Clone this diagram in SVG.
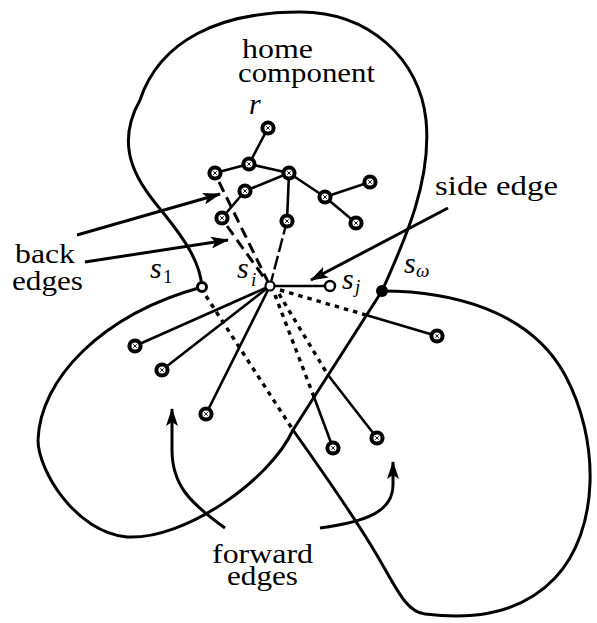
<svg xmlns="http://www.w3.org/2000/svg" width="597" height="623" viewBox="0 0 597 623">
<style>
.bd{fill:none;stroke:#000;stroke-width:3;stroke-linejoin:round;stroke-linecap:round}
.e{stroke:#000;stroke-width:2.6;stroke-linecap:round;fill:none}
.dot{stroke:#000;stroke-width:3.4;stroke-dasharray:4.5,5;fill:none}
.dash{stroke:#000;stroke-width:3;stroke-dasharray:11,6;fill:none}
.ldash{stroke:#000;stroke-width:2.4;stroke-dasharray:14,4;fill:none}
.ar{stroke:#000;stroke-width:3;fill:none;marker-end:url(#ah)}
</style>
<defs>
<marker id="ah" markerUnits="userSpaceOnUse" markerWidth="20" markerHeight="12" refX="17" refY="6" orient="auto">
<path d="M0,0 L18,6 L0,12 L4,6 z" fill="#000"/>
</marker>
<g id="nd">
<circle r="7.6" fill="#000"/>
<circle r="3.6" fill="#fff"/>
<path d="M-1.8,-1.8 L1.8,1.8 M1.8,-1.8 L-1.8,1.8" stroke="#000" stroke-width="0.9"/>
</g>
</defs>
<rect width="597" height="623" fill="#fff"/>
<g id="boundaries">
<path class="bd" d="M202,287 C200,262 185,240 165,215 C140,185 112,150 140,100 C160,40 220,12 300,12 C370,12 420,60 426,120 C432,180 405,240 382,291 L293,430 C270,480 185,540 127,537 C75,532 38,470 38,440 C40,380 100,315 202,287"/>
<path class="bd" d="M382,291 C450,291 530,310 565,375 C600,440 600,530 555,578 C515,620 460,618 425,614 C405,612 395,585 375,552 C355,518 320,468 293,430"/>
</g>
<g id="connectors">
<line class="e" x1="268" y1="128" x2="249" y2="164"/>
<line class="e" x1="249" y1="164" x2="215" y2="173"/>
<line class="e" x1="249" y1="164" x2="289" y2="173"/>
<line class="e" x1="289" y1="173" x2="245" y2="191"/>
<line class="e" x1="289" y1="173" x2="325" y2="197"/>
<line class="e" x1="325" y1="197" x2="370" y2="182"/>
<line class="e" x1="325" y1="197" x2="356" y2="223"/>
<line class="e" x1="245" y1="191" x2="222" y2="218"/>
<line class="e" x1="289" y1="173" x2="287" y2="221"/>
<line class="ldash" x1="287" y1="221" x2="270" y2="286"/>
<line class="dash" x1="219" y1="182" x2="270" y2="286"/>
<line class="dash" x1="227" y1="226" x2="270" y2="286"/>
<line class="e" x1="270" y1="286" x2="135" y2="346"/>
<line class="e" x1="270" y1="286" x2="162" y2="370"/>
<line class="e" x1="270" y1="286" x2="206" y2="414"/>
<line class="e" x1="270" y1="286" x2="330" y2="286"/>
<line class="dot" x1="275" y1="295" x2="314" y2="397"/>
<line class="e" x1="314" y1="397" x2="333" y2="448"/>
<line class="dot" x1="279" y1="294" x2="328" y2="375"/>
<line class="e" x1="328" y1="375" x2="377" y2="438"/>
<line class="dot" x1="280" y1="290" x2="366" y2="315"/>
<line class="e" x1="366" y1="315" x2="437" y2="336"/>
<line class="dot" x1="206" y1="296" x2="293" y2="430"/>
<path class="ar" d="M77,235 L220,194"/>
<path class="ar" d="M85,262 L228,240"/>
<path class="ar" d="M448,208 L311,280"/>
<path class="ar" d="M225,528 C190,503 172,485 172,450 L172,409"/>
<path class="ar" d="M320,528 C365,522 393,512 393,485 L393,462"/>
</g>
<g id="n-r"><use href="#nd" x="268" y="128"/></g>
<g id="n2"><use href="#nd" x="249" y="164"/></g>
<g id="n3"><use href="#nd" x="215" y="173"/></g>
<g id="n4"><use href="#nd" x="289" y="173"/></g>
<g id="n5"><use href="#nd" x="245" y="191"/></g>
<g id="n6"><use href="#nd" x="325" y="197"/></g>
<g id="n7"><use href="#nd" x="370" y="182"/></g>
<g id="n8"><use href="#nd" x="356" y="223"/></g>
<g id="n9"><use href="#nd" x="222" y="218"/></g>
<g id="n10"><use href="#nd" x="287" y="221"/></g>
<g id="a1"><use href="#nd" x="135" y="346"/></g>
<g id="a2"><use href="#nd" x="162" y="370"/></g>
<g id="a3"><use href="#nd" x="206" y="414"/></g>
<g id="b1"><use href="#nd" x="333" y="448"/></g>
<g id="b2"><use href="#nd" x="377" y="438"/></g>
<g id="c1"><use href="#nd" x="437" y="336"/></g>
<g id="s1"><circle cx="202" cy="287" r="4.5" fill="#fff" stroke="#000" stroke-width="3"/></g>
<g id="si"><circle cx="270" cy="286" r="4.5" fill="#fff" stroke="#000" stroke-width="2.2"/></g>
<g id="sj"><circle cx="330" cy="286" r="5" fill="#fff" stroke="#000" stroke-width="2.5"/></g>
<g id="sw"><circle cx="382" cy="291" r="6" fill="#000"/></g>
<g id="labels" fill="#000" font-family="Liberation Serif, DejaVu Serif, serif">
<text font-size="27" x="242" y="58" textLength="71" lengthAdjust="spacingAndGlyphs">home</text>
<text font-size="27" x="238" y="82" textLength="137" lengthAdjust="spacingAndGlyphs">component</text>
<text font-size="30" font-style="italic" x="249" y="114">r</text>
<text font-size="27" x="435" y="195" textLength="123" lengthAdjust="spacingAndGlyphs">side edge</text>
<text font-size="27" x="15" y="263" textLength="60" lengthAdjust="spacingAndGlyphs">back</text>
<text font-size="27" x="12" y="290" textLength="71" lengthAdjust="spacingAndGlyphs">edges</text>
<text font-size="27" x="212" y="563" textLength="101" lengthAdjust="spacingAndGlyphs">forward</text>
<text font-size="27" x="227" y="585" textLength="71" lengthAdjust="spacingAndGlyphs">edges</text>
<text font-size="30" font-style="italic" x="150" y="278">s<tspan font-size="19" font-style="normal" x="163" y="283">1</tspan></text>
<text font-size="30" font-style="italic" x="237" y="278">s<tspan font-size="19" x="251" y="286">i</tspan></text>
<text font-size="30" font-style="italic" x="342" y="289">s<tspan font-size="19" x="355" y="293">j</tspan></text>
<text font-size="30" font-style="italic" x="404" y="273">s<tspan font-size="19" x="416" y="277">ω</tspan></text>
</g>
</svg>
